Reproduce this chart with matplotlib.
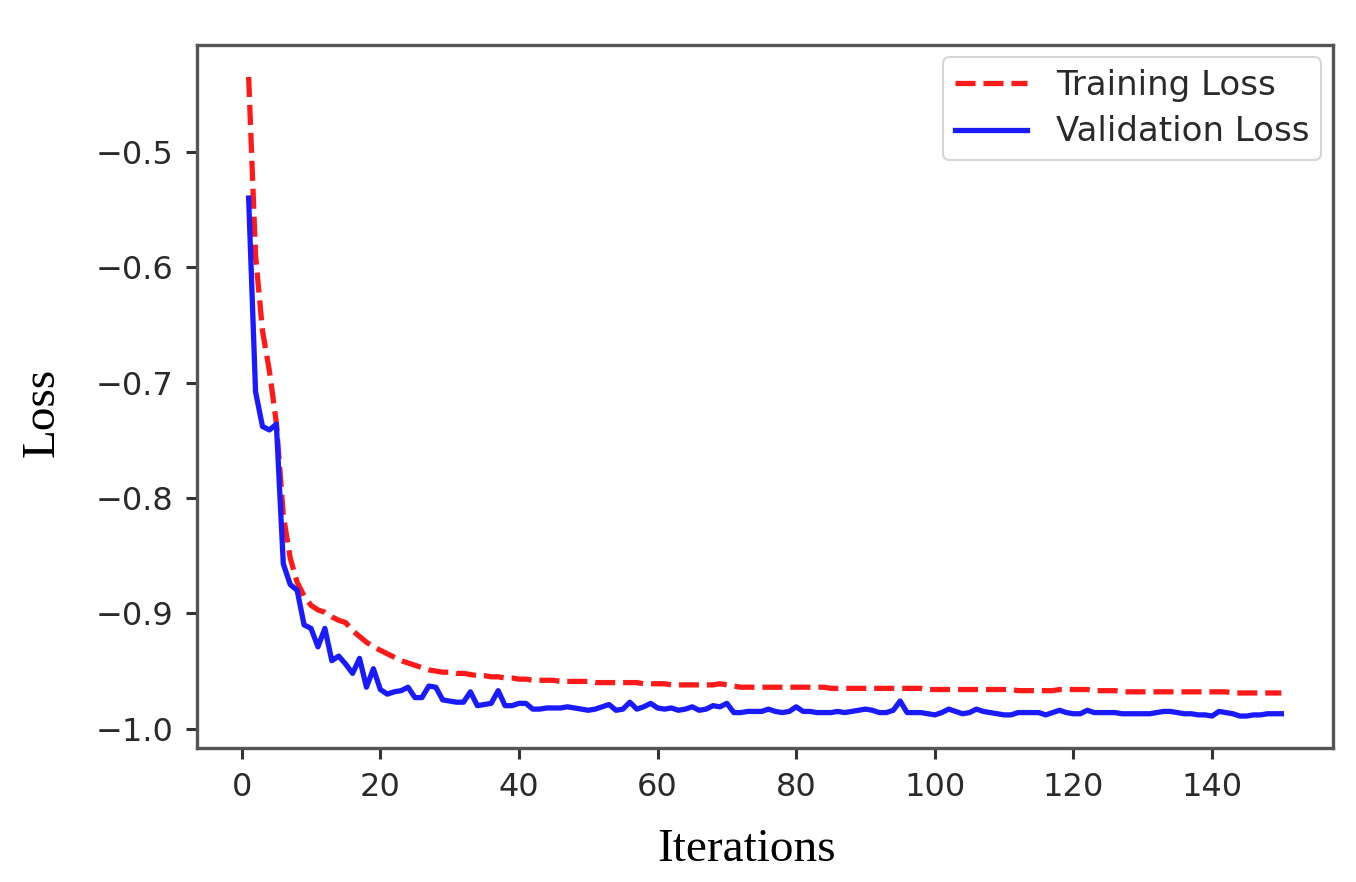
import matplotlib
matplotlib.use("Agg")
import matplotlib.pyplot as plt
import numpy as np

iterations = list(range(1, 151))

training_loss = [
    -0.435, -0.590, -0.655, -0.690, -0.735, -0.815, -0.852, -0.873, -0.885, -0.893,
    -0.897, -0.899, -0.903, -0.906, -0.908, -0.915, -0.920, -0.925, -0.929, -0.932,
    -0.935, -0.938, -0.941, -0.943, -0.945, -0.947, -0.949, -0.950, -0.951, -0.951,
    -0.952, -0.952, -0.953, -0.954, -0.954, -0.955, -0.955, -0.956, -0.956, -0.957,
    -0.957, -0.958, -0.958, -0.958, -0.958, -0.959, -0.959, -0.959, -0.959, -0.959,
    -0.960, -0.960, -0.960, -0.960, -0.960, -0.960, -0.960, -0.961, -0.961, -0.961,
    -0.961, -0.962, -0.962, -0.962, -0.962, -0.962, -0.962, -0.962, -0.961, -0.962,
    -0.963, -0.964, -0.964, -0.964, -0.964, -0.964, -0.964, -0.964, -0.964, -0.964,
    -0.964, -0.964, -0.964, -0.964, -0.965, -0.965, -0.965, -0.965, -0.965, -0.965,
    -0.965, -0.965, -0.965, -0.965, -0.965, -0.965, -0.965, -0.965, -0.966, -0.966,
    -0.966, -0.966, -0.966, -0.966, -0.966, -0.966, -0.966, -0.966, -0.966, -0.966,
    -0.966, -0.967, -0.967, -0.967, -0.967, -0.967, -0.967, -0.966, -0.966, -0.966,
    -0.966, -0.966, -0.967, -0.967, -0.967, -0.967, -0.968, -0.968, -0.968, -0.968,
    -0.968, -0.968, -0.968, -0.968, -0.968, -0.968, -0.968, -0.968, -0.968, -0.968,
    -0.968, -0.968, -0.969, -0.969, -0.969, -0.969, -0.969, -0.969, -0.969, -0.969,
]

validation_loss = [
    -0.540, -0.708, -0.738, -0.741, -0.736, -0.857, -0.875, -0.880, -0.910, -0.913,
    -0.929, -0.913, -0.941, -0.937, -0.944, -0.952, -0.939, -0.964, -0.948, -0.966,
    -0.970, -0.968, -0.967, -0.964, -0.973, -0.973, -0.963, -0.964, -0.975, -0.976,
    -0.977, -0.977, -0.968, -0.980, -0.979, -0.978, -0.967, -0.980, -0.980, -0.978,
    -0.978, -0.983, -0.983, -0.982, -0.982, -0.982, -0.981, -0.982, -0.983, -0.984,
    -0.983, -0.981, -0.979, -0.984, -0.983, -0.977, -0.983, -0.981, -0.978, -0.982,
    -0.983, -0.982, -0.984, -0.983, -0.981, -0.984, -0.983, -0.980, -0.981, -0.978,
    -0.986, -0.986, -0.985, -0.985, -0.985, -0.983, -0.985, -0.986, -0.985, -0.981,
    -0.985, -0.985, -0.986, -0.986, -0.986, -0.985, -0.986, -0.985, -0.984, -0.983,
    -0.984, -0.986, -0.986, -0.984, -0.976, -0.986, -0.986, -0.986, -0.987, -0.988,
    -0.986, -0.983, -0.985, -0.987, -0.986, -0.983, -0.985, -0.986, -0.987, -0.988,
    -0.988, -0.986, -0.986, -0.986, -0.986, -0.988, -0.986, -0.984, -0.986, -0.987,
    -0.987, -0.984, -0.986, -0.986, -0.986, -0.986, -0.987, -0.987, -0.987, -0.987,
    -0.987, -0.986, -0.985, -0.985, -0.986, -0.987, -0.987, -0.988, -0.988, -0.989,
    -0.985, -0.986, -0.987, -0.989, -0.989, -0.988, -0.988, -0.987, -0.987, -0.987,
]

x_ticks = [0, 20, 40, 60, 80, 100, 120, 140]
y_ticks = [-1.0, -0.9, -0.8, -0.7, -0.6, -0.5]

fig = plt.figure(figsize=(13.56, 8.82), dpi=100)
ax = fig.add_axes([197/1356, 1 - 748/882, (1333-197)/1356, (748-45)/882])

ax.plot(iterations, training_loss, color="#ff1a1a", linestyle="--", linewidth=3.8,
        dashes=(3.8, 1.5), label="Training Loss")
ax.plot(iterations, validation_loss, color="#1a1aff", linestyle="-", linewidth=3.8,
        label="Validation Loss")

ax.set_xticks(x_ticks)
ax.set_yticks(y_ticks)
ax.set_yticklabels([f"{t:.1f}".replace("-", "\u2212") for t in y_ticks])
ax.tick_params(axis="both", labelsize=23, length=8, width=2.2, colors="#333333",
               labelcolor="#2a2a2a", pad=9)
for sp in ax.spines.values():
    sp.set_linewidth(2.4)
    sp.set_color("#555555")

leg = ax.legend(loc="upper right", fontsize=24.5, frameon=True, handlelength=2.1,
                borderpad=0.35, labelspacing=0.4, handletextpad=0.85,
                borderaxespad=0.35)
leg.get_frame().set_edgecolor("#cccccc")
leg.get_frame().set_linewidth(1.5)
for t in leg.get_texts():
    t.set_color("#2a2a2a")

fig.text(747/1356, 1 - 850/882, "Iterations", fontsize=34, family="Liberation Serif",
         ha="center", va="center")
fig.text(42/1356, 1 - 412/882, "Loss", fontsize=34, family="Liberation Serif",
         ha="center", va="center", rotation=90)

fig.savefig("out.png", dpi=100)
